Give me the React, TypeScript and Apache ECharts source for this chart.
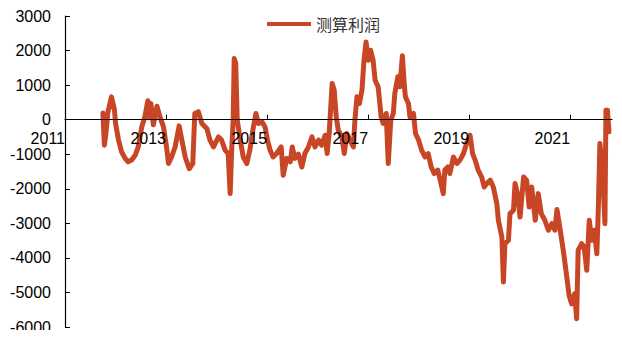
import React, { useEffect, useRef } from "react";
import * as echarts from "echarts";

const seriesName = "测算利润";

const years: number[] = [
  2011.75, 2011.78, 2011.81, 2011.85, 2011.92, 2011.98, 2012.0, 2012.06, 2012.12, 2012.19,
  2012.25, 2012.32, 2012.39, 2012.45, 2012.52, 2012.58, 2012.64, 2012.67, 2012.7, 2012.75,
  2012.82, 2012.88, 2012.95, 2013.01, 2013.05, 2013.11, 2013.18, 2013.26, 2013.32, 2013.38,
  2013.46, 2013.53, 2013.57, 2013.64, 2013.71, 2013.81, 2013.87, 2013.94, 2014.04, 2014.1,
  2014.17, 2014.23, 2014.27, 2014.3, 2014.33, 2014.35, 2014.38, 2014.41, 2014.47, 2014.53,
  2014.6, 2014.66, 2014.73, 2014.78, 2014.83, 2014.9, 2014.96, 2015.01, 2015.06, 2015.12,
  2015.19, 2015.28, 2015.32, 2015.39, 2015.46, 2015.5, 2015.55, 2015.62, 2015.69, 2015.75,
  2015.82, 2015.89, 2015.95, 2016.02, 2016.08, 2016.15, 2016.19, 2016.23, 2016.29, 2016.33,
  2016.37, 2016.41, 2016.48, 2016.53, 2016.58, 2016.64, 2016.71, 2016.74, 2016.78, 2016.83,
  2016.88, 2016.92, 2016.96, 2017.01, 2017.05, 2017.1, 2017.14, 2017.2, 2017.26, 2017.3,
  2017.36, 2017.4, 2017.45, 2017.5, 2017.53, 2017.59, 2017.63, 2017.68, 2017.72, 2017.74,
  2017.8, 2017.83, 2017.9, 2017.94, 2018.0, 2018.06, 2018.13, 2018.19, 2018.25, 2018.31,
  2018.38, 2018.43, 2018.49, 2018.52, 2018.58, 2018.62, 2018.69, 2018.76, 2018.82, 2018.89,
  2018.95, 2019.02, 2019.07, 2019.12, 2019.18, 2019.25, 2019.3, 2019.35, 2019.42, 2019.48,
  2019.55, 2019.58, 2019.65, 2019.68, 2019.71, 2019.78, 2019.81, 2019.88, 2019.91, 2019.96,
  2020.01, 2020.08, 2020.14, 2020.19, 2020.24, 2020.31, 2020.37, 2020.43, 2020.5, 2020.57,
  2020.64, 2020.7, 2020.74, 2020.8, 2020.87, 2020.93, 2020.98, 2021.03, 2021.09, 2021.13,
  2021.16, 2021.23, 2021.28, 2021.33, 2021.38, 2021.43, 2021.48, 2021.53, 2021.56, 2021.59,
  2021.64, 2021.69, 2021.71, 2021.74, 2021.77,
];

const profit: number[] = [
  190, -740, -400, 220, 660, 275, -100, -590, -930, -1120,
  -1220, -1170, -1030, -790, -210, 80, 550, 80, 470, -150,
  390, 80, -210, -790, -1270, -1080, -790, -180, -640, -1080,
  -1420, -1270, 180, 230, -110, -260, -590, -790, -500, -590,
  -880, -980, -2140, -880, -10, 1770, 1630, -15, -590, -1080,
  -1270, -880, -210, 180, -110, -60, -210, -590, -880, -1080,
  -980, -790, -1610, -1120, -1220, -790, -1120, -1000, -1370, -980,
  -790, -500, -790, -590, -740, -450, -980, -400, 1050, 855,
  80, -300, -500, -980, -400, -590, -790, -15, 660, 470,
  855, 1720, 2250, 1720, 2010, 1720, 1140, 950, 80, -110,
  180, -1270, -15, 180, 760, 1240, 950, 1850, 950, 660,
  470, 80, 180, -400, -590, -880, -1080, -980, -1370, -1560,
  -1460, -1750, -2140, -1460, -1370, -1560, -1080, -1270, -1170, -980,
  -690, -450, -980, -1170, -1460, -1660, -1950, -1850, -1750, -1950,
  -2430, -2910, -3400, -4700, -3590, -3490, -2720, -2620, -1850, -2140,
  -2820, -1660, -1750, -2530, -1950, -2910, -2140, -2720, -2910, -3200,
  -3010, -3200, -2600, -3150, -3830, -4500, -5080, -5330, -5040, -5760,
  -3780, -3590, -3690, -4360, -2910, -3490, -3200, -3880, -2530, -690,
  -1370, -3010, 275, 275, -350,
];

const xTickValues: number[] = [2011, 2013, 2015, 2017, 2019, 2021];
const xMin = 2011;
const xMax = 2021.83;
const yMin = -6000;
const yMax = 3000;
const yStep = 1000;

export default function App() {
  const ref = useRef<HTMLDivElement>(null);
  useEffect(() => {
    if (!ref.current) return;
    const chart = echarts.init(ref.current, null, { renderer: "svg" });
    const data = years.map((y, i) => [y, profit[i]]);
    const font = "'Liberation Sans', Arial, sans-serif";
    const gridTop = 16;
    const gridBottom = 11;
    const plotH = 338 - gridTop - gridBottom;
    // distance from the plot's bottom edge up to the value 0
    const zeroOffset = -plotH * ((0 - yMin) / (yMax - yMin));
    chart.setOption({
      animation: false,
      textStyle: { fontFamily: font },
      grid: {
        left: 65,
        right: 10,
        top: gridTop,
        bottom: gridBottom,
        containLabel: false,
        outerBoundsMode: "none",
      },
      legend: {
        show: true,
        left: 267,
        top: 16,
        padding: 0,
        itemWidth: 44,
        itemHeight: 4,
        icon: "rect",
        textStyle: {
          fontSize: 16,
          color: "#333",
          fontFamily: "'Noto Sans CJK SC', sans-serif",
        },
        data: [seriesName],
      },
      xAxis: {
        type: "value",
        min: xMin,
        max: xMax,
        interval: 2,
        position: "bottom",
        offset: zeroOffset,
        z: 10,
        splitLine: { show: false },
        axisLine: { show: true, onZero: false, lineStyle: { color: "#000", width: 1.2 } },
        axisTick: {
          show: true,
          inside: true,
          length: 5,
          customValues: xTickValues,
          lineStyle: { color: "#000" },
        },
        axisLabel: {
          customValues: xTickValues,
          align: "right",
          margin: 11,
          fontSize: 16,
          color: "#000",
          fontFamily: font,
          formatter: (v: number) => String(Math.round(v)),
        },
      },
      yAxis: {
        type: "value",
        min: yMin,
        max: yMax,
        interval: yStep,
        z: 10,
        splitLine: { show: false },
        axisLine: { show: true, onZero: false, lineStyle: { color: "#000", width: 1.2 } },
        axisTick: { show: true, inside: true, length: 5, lineStyle: { color: "#000" } },
        axisLabel: {
          fontSize: 16,
          color: "#000",
          margin: 14,
          fontFamily: font,
          formatter: (v: number) => String(v),
        },
      },
      series: [
        {
          name: seriesName,
          type: "line",
          data,
          showSymbol: false,
          symbol: "none",
          z: 1,
          lineStyle: { color: "#C84626", width: 5, join: "round", cap: "round" },
          itemStyle: { color: "#C84626" },
        },
      ],
    });
    return () => chart.dispose();
  }, []);
  return <div ref={ref} style={{ width: 622, height: 338, margin: -8 }} />;
}
